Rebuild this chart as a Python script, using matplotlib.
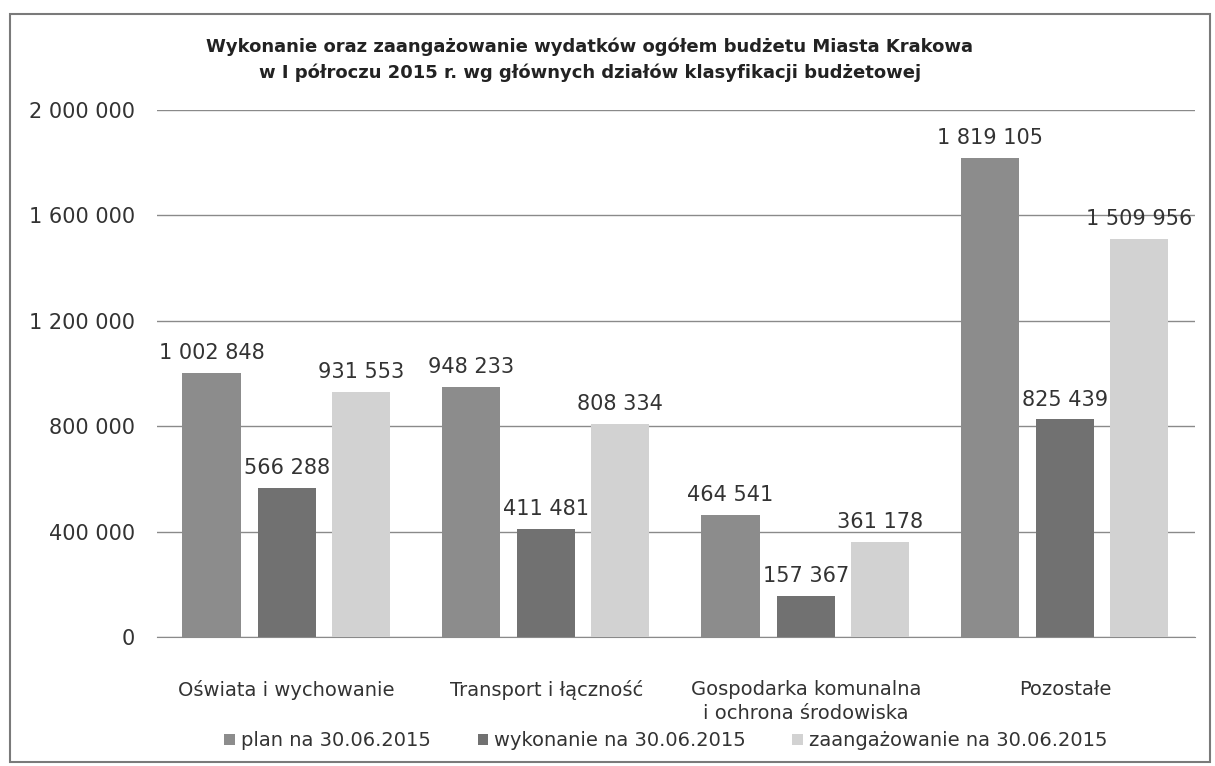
import matplotlib
matplotlib.use("Agg")
from matplotlib import pyplot as plt
from matplotlib.patches import Rectangle
from matplotlib.ticker import FuncFormatter
import numpy as np

# data
categories = ["Oświata i wychowanie", "Transport i łączność",
              "Gospodarka komunalna\ni ochrona środowiska", "Pozostałe"]
plan = [1002848, 948233, 464541, 1819105]
wykonanie = [566288, 411481, 157367, 825439]
zaangazowanie = [931553, 808334, 361178, 1509956]
series_names = ["plan na 30.06.2015", "wykonanie na 30.06.2015", "zaangażowanie na 30.06.2015"]
y_ticks = [0, 400000, 800000, 1200000, 1600000, 2000000]

plt.rcParams['font.family'] = ['DejaVu Sans']
text_col = "#333333"

W, H = 1215, 766
fig = plt.figure(figsize=(W / 100, H / 100), dpi=100)
ax = fig.add_axes([157 / W, (H - 637) / H, (1195 - 157) / W, (637 - 110) / H])

def fmt(v, pos=None):
    return f"{int(v):,}".replace(",", " ")

x = np.arange(len(categories))
offsets = [-0.29, 0.0, 0.285]
width = 0.225
colors = ["#8c8c8c", "#717171", "#d2d2d2"]

for vals, off, col, name in zip([plan, wykonanie, zaangazowanie], offsets, colors, series_names):
    bars = ax.bar(x + off, vals, width, color=col, label=name, zorder=3)
    for b, v in zip(bars, vals):
        ax.annotate(fmt(v), (b.get_x() + b.get_width() / 2, v), xytext=(0, 7),
                    textcoords="offset points", ha="center", va="bottom",
                    fontsize=15, color=text_col)

ax.set_xlim(-0.5, 3.5)
ax.set_ylim(0, 2000000)
ax.set_yticks(y_ticks)
ax.yaxis.set_major_formatter(FuncFormatter(fmt))
ax.set_xticks(x)
ax.set_xticklabels(categories, fontsize=14, color=text_col, linespacing=1.3)
ax.tick_params(axis="y", labelsize=15, colors=text_col, length=0, pad=16)
ax.tick_params(axis="x", length=0, pad=31)
ax.grid(axis="y", color="#8a8a8a", linewidth=1, zorder=0)
for s in ["top", "right", "left"]:
    ax.spines[s].set_visible(False)
ax.spines["bottom"].set_color("#8a8a8a")

fig.text(590 / W, 1 - 60 / H,
         "Wykonanie oraz zaangażowanie wydatków ogółem budżetu Miasta Krakowa\n"
         "w I półroczu 2015 r. wg głównych działów klasyfikacji budżetowej",
         ha="center", va="center", fontsize=13, fontweight="bold", color="#222222",
         linespacing=1.5)

fig.legend(loc="center", bbox_to_anchor=(666 / W, 1 - 741 / H), ncol=3, frameon=False,
           fontsize=14, handlelength=0.55, handleheight=0.55, handletextpad=0.3,
           columnspacing=2.4, labelcolor=text_col)

fig.patches.append(Rectangle((10 / W, 4 / H), (1210 - 10) / W, (752 - 4) / H,
                             transform=fig.transFigure, fill=False,
                             edgecolor="#7a7a7a", linewidth=1.5))

fig.savefig("out.png", dpi=100)
